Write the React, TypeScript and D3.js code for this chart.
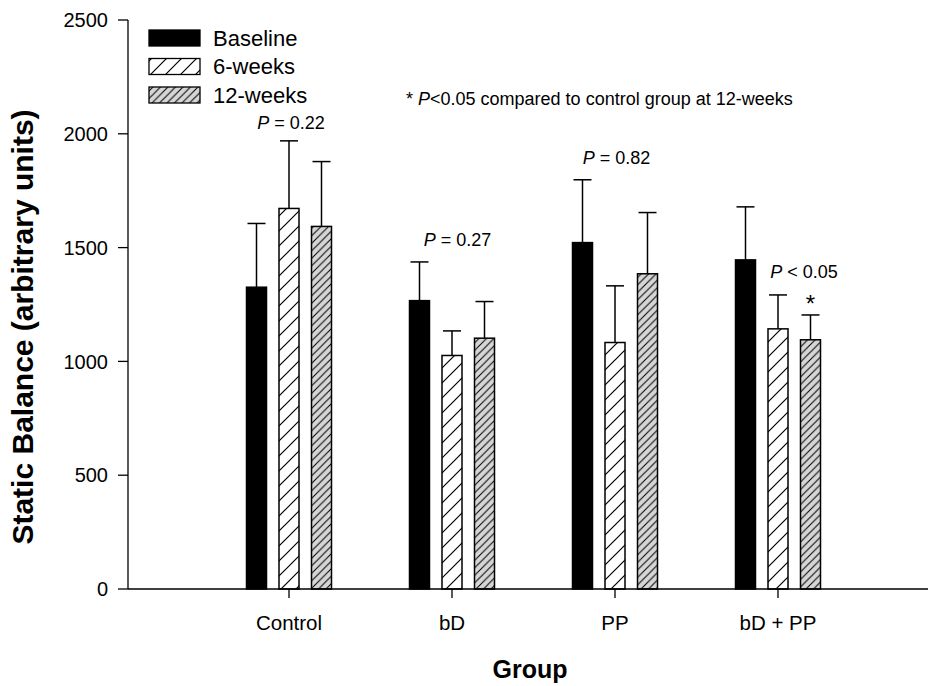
import React from "react";
import * as d3 from "d3";

const categories = ["Control", "bD", "PP", "bD + PP"];
const seriesNames = ["Baseline", "6-weeks", "12-weeks"];
const baseline = [1326, 1267, 1522, 1446];
const baselineErr = [1606, 1437, 1798, 1679];
const weeks6 = [1672, 1026, 1083, 1143];
const weeks6Err = [1969, 1134, 1332, 1292];
const weeks12 = [1593, 1102, 1385, 1095];
const weeks12Err = [1878, 1263, 1654, 1204];
const yTicks = [0, 500, 1000, 1500, 2000, 2500];
const pLabels = ["P = 0.22", "P = 0.27", "P = 0.82", "P < 0.05"];
const pLabelValues = [2020, 1507, 1867, 1366];

const W = 930;
const H = 686;

export default function App() {
  const y = d3.scaleLinear().domain([0, 2500]).range([589, 20]);
  const x = d3.scaleLinear().domain([0, 5]).range([126, 941]);
  const offsets = [-32.5, 0, 32.5];
  const pOffsets = [2, 5.5, 1.5, 26];
  const barW = 20;
  const capW = 18;
  const values = [baseline, weeks6, weeks12];
  const errs = [baselineErr, weeks6Err, weeks12Err];
  const fills = ["#000", "url(#hatch6)", "url(#hatch12)"];
  const font = "'Liberation Sans', Arial, sans-serif";
  const x0 = 128;
  const xEnd = 928;

  return (
    <div style={{ position: "absolute", left: 0, top: 0 }}>
      <svg width={W} height={H} style={{ display: "block", fontFamily: font }}>
        <defs>
          <pattern id="hatch6" patternUnits="userSpaceOnUse" width={15} height={15}>
            <rect width={15} height={15} fill="#fff" />
            <path d="M0,15 L15,0 M-3,3 L3,-3 M12,18 L18,12" stroke="#000" strokeWidth={1.2} />
          </pattern>
          <pattern id="hatch12" patternUnits="userSpaceOnUse" width={7.5} height={7.5}>
            <rect width={7.5} height={7.5} fill="#d6d6d6" />
            <path d="M0,7.5 L7.5,0 M-2,2 L2,-2 M5.5,9.5 L9.5,5.5" stroke="#000" strokeWidth={1} />
          </pattern>
        </defs>

        {/* bars */}
        {categories.map((c, ci) =>
          values.map((vals, si) => {
            const cx = x(ci + 1) + offsets[si];
            const top = y(vals[ci]);
            const capY = y(errs[si][ci]);
            return (
              <g key={c + si}>
                <line x1={cx} x2={cx} y1={top} y2={capY} stroke="#000" strokeWidth={1.5} />
                <line x1={cx - capW / 2} x2={cx + capW / 2} y1={capY} y2={capY} stroke="#000" strokeWidth={1.5} />
                <rect
                  x={cx - barW / 2}
                  y={top}
                  width={barW}
                  height={y(0) - top}
                  fill={fills[si]}
                  stroke="#000"
                  strokeWidth={1.5}
                />
              </g>
            );
          })
        )}

        {/* y axis */}
        <line x1={x0} x2={x0} y1={y(2500)} y2={y(0)} stroke="#000" strokeWidth={1.3} />
        {yTicks.map((t) => (
          <g key={t}>
            <line x1={x0 - 10} x2={x0} y1={y(t)} y2={y(t)} stroke="#000" strokeWidth={1.3} />
            <text x={x0 - 20} y={y(t)} dy="0.36em" textAnchor="end" fontSize={20}>
              {t}
            </text>
          </g>
        ))}

        {/* x axis */}
        <line x1={x0} x2={xEnd} y1={y(0)} y2={y(0)} stroke="#000" strokeWidth={1.3} />
        {categories.map((c, ci) => (
          <g key={c}>
            <line x1={x(ci + 1)} x2={x(ci + 1)} y1={y(0)} y2={y(0) + 9} stroke="#000" strokeWidth={1.3} />
            <text x={x(ci + 1)} y={630} textAnchor="middle" fontSize={20.5}>
              {c}
            </text>
          </g>
        ))}

        {/* p labels */}
        {pLabels.map((p, i) => {
          const rest = p.slice(1);
          return (
            <text key={p + i} x={x(i + 1) + pOffsets[i]} y={y(pLabelValues[i])} textAnchor="middle" fontSize={18}>
              <tspan fontStyle="italic">P</tspan>
              {rest}
            </text>
          );
        })}
        <text x={x(4) + offsets[2]} y={312} textAnchor="middle" fontSize={24}>
          *
        </text>
        <text x={406} y={105} fontSize={18}>
          {"* "}
          <tspan fontStyle="italic">P</tspan>
          {"<0.05 compared to control group at 12-weeks"}
        </text>

        {/* legend */}
        {seriesNames.map((s, i) => (
          <g key={s}>
            <rect x={149} y={30 + i * 28.5} width={51} height={16} fill={fills[i]} stroke="#000" strokeWidth={1.3} />
            <text x={213} y={38 + i * 28.5} dy="0.36em" fontSize={22}>
              {s}
            </text>
          </g>
        ))}

        {/* axis titles */}
        <text
          transform={`translate(33,327) rotate(-90)`}
          textAnchor="middle"
          fontSize={30}
          fontWeight="bold"
        >
          Static Balance (arbitrary units)
        </text>
        <text x={530} y={678} textAnchor="middle" fontSize={25}>
          <tspan fontWeight="bold">Group</tspan>
        </text>
      </svg>
    </div>
  );
}
